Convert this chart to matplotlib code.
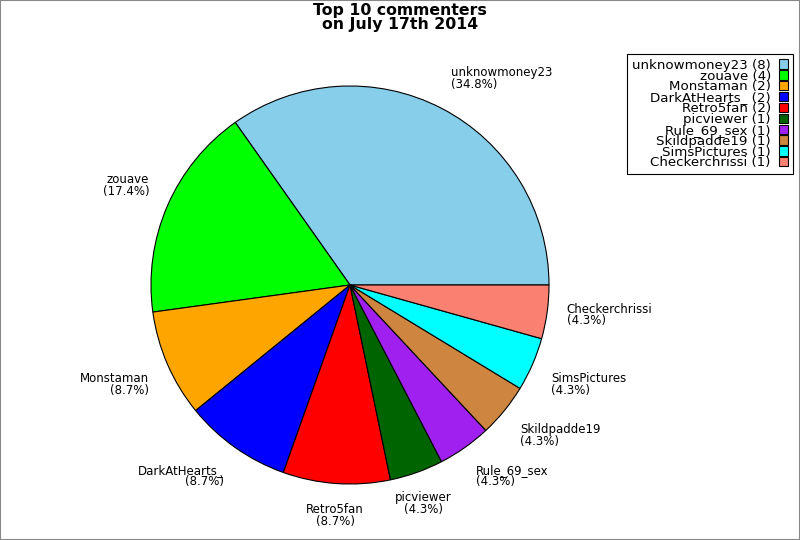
import numpy as np
import matplotlib
matplotlib.use('Agg')
import matplotlib.pyplot as plt
from matplotlib.patches import Rectangle

names = ['unknowmoney23', 'zouave', 'Monstaman', 'DarkAtHearts_', 'Retro5fan',
         'picviewer', 'Rule_69_sex', 'Skildpadde19', 'SimsPictures', 'Checkerchrissi']
counts = [8, 4, 2, 2, 2, 1, 1, 1, 1, 1]
colors = ['#87CEEB', '#00FF00', '#FFA500', '#0000FF', '#FF0000',
          '#006400', '#A020F0', '#CD853F', '#00FFFF', '#FA8072']

fig = plt.figure(figsize=(8, 5.4), dpi=100)
ax = fig.add_axes([0, 0, 1, 1])

cx, cy, rad = 350, 255, 199
wedges, _ = ax.pie(counts, colors=colors, startangle=0, counterclock=True,
                   center=(cx, cy), radius=rad, frame=True,
                   wedgeprops=dict(edgecolor='black', linewidth=0.8))
ax.set_xlim(0, 800)
ax.set_ylim(0, 540)
ax.set_aspect('equal')
ax.axis('off')

total = float(sum(counts))
start = 0.0
for name, n in zip(names, counts):
    span = 360.0 * n / total
    mid = start + span / 2
    start += span
    th = np.deg2rad(mid)
    x = cx + 1.1 * rad * np.cos(th)
    y = cy + 1.1 * rad * np.sin(th)
    # alignment by octant
    octant = int(((mid + 22.5) % 360) // 45)
    ha = ['left', 'left', 'center', 'right', 'right', 'right', 'center', 'left'][octant]
    va = ['center', 'bottom', 'bottom', 'bottom', 'center', 'top', 'top', 'top'][octant]
    ax.text(x, y, '%s\n(%.1f%%)' % (name, 100 * n / total), ha=ha, va=va,
            multialignment=ha, fontsize=8.5, linespacing=0.85)

fig.text(0.5, 0.995, 'Top 10 commenters\non July 17th 2014', ha='center', va='top',
         fontsize=11.3, fontweight='bold', linespacing=0.9)

handles = [Rectangle((0, 0), 1, 1, facecolor=c, edgecolor='black', linewidth=0.8) for c in colors]
labels = ['%s (%d)' % (nm, n) for nm, n in zip(names, counts)]
leg = fig.legend(handles, labels, loc='upper right', bbox_to_anchor=(0.991, 0.9),
                 fontsize=9.6, markerfirst=False, handlelength=0.7, handleheight=0.7,
                 handletextpad=0.6, labelspacing=-0.16, borderpad=0.35,
                 borderaxespad=0, fancybox=False, framealpha=1)
leg.get_frame().set_edgecolor('black')
leg.get_frame().set_linewidth(0.8)
for t in leg.get_texts():
    t.set_ha('right')

fig.patches.append(Rectangle((0, 0), 1, 1, transform=fig.transFigure, fill=False,
                             edgecolor='#888888', linewidth=1.5))

fig.savefig('out.png', dpi=100)
